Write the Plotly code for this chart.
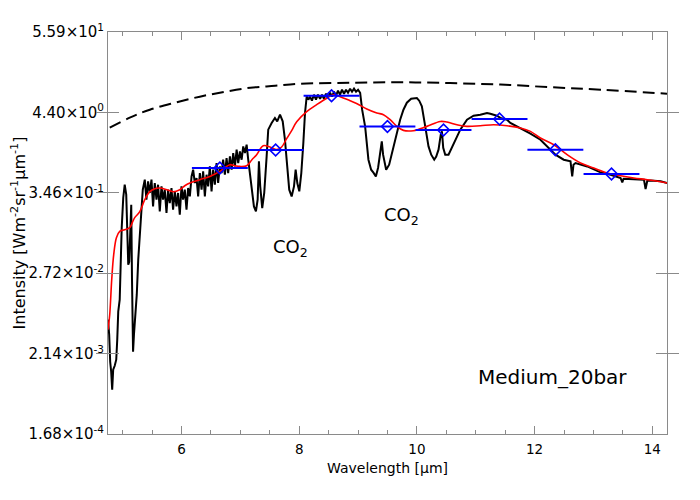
import numpy as np
import plotly.graph_objects as go

# black spectrum: wavelength [um] and log10 intensity
spec_wl = [4.750, 4.770, 4.787, 4.804, 4.821, 4.838, 4.864, 4.890, 4.907, 4.924,
           4.949, 4.966, 4.983, 5.009, 5.034, 5.060, 5.077, 5.094, 5.111, 5.128,
           5.145, 5.158, 5.176, 5.191, 5.213, 5.239, 5.264, 5.290, 5.315, 5.341,
           5.375, 5.403, 5.431, 5.460, 5.489, 5.516, 5.545, 5.574, 5.601, 5.630,
           5.659, 5.686, 5.715, 5.744, 5.771, 5.800, 5.829, 5.856, 5.885, 5.914,
           5.941, 5.970, 5.999, 6.026, 6.055, 6.084, 6.112, 6.141, 6.170, 6.197,
           6.226, 6.255, 6.282, 6.311, 6.340, 6.367, 6.396, 6.425, 6.452, 6.481,
           6.510, 6.537, 6.566, 6.595, 6.622, 6.651, 6.680, 6.707, 6.736, 6.765,
           6.792, 6.822, 6.851, 6.878, 6.907, 6.936, 6.963, 6.992, 7.021, 7.048,
           7.077, 7.106, 7.133, 7.191, 7.230, 7.264, 7.293, 7.315, 7.337, 7.371,
           7.405, 7.446, 7.473, 7.531, 7.587, 7.626, 7.673, 7.719, 7.757, 7.796,
           7.830, 7.871, 7.911, 7.939, 7.967, 8.001, 8.035, 8.069, 8.098, 8.127,
           8.155, 8.183, 8.216, 8.250, 8.284, 8.318, 8.354, 8.387, 8.421, 8.455,
           8.489, 8.524, 8.557, 8.591, 8.625, 8.659, 8.694, 8.727, 8.761, 8.795,
           8.829, 8.864, 8.897, 8.931, 8.965, 9.000, 9.035, 9.069, 9.120, 9.176,
           9.222, 9.261, 9.302, 9.340, 9.375, 9.403, 9.425, 9.477, 9.528, 9.601,
           9.659, 9.715, 9.771, 9.829, 9.902, 9.999, 10.039, 10.084, 10.141, 10.197,
           10.243, 10.294, 10.328, 10.367, 10.405, 10.425, 10.447, 10.481, 10.537, 10.622,
           10.737, 10.851, 10.963, 11.077, 11.191, 11.248, 11.358, 11.418, 11.532, 11.588,
           11.758, 11.929, 12.099, 12.269, 12.354, 12.495, 12.610, 12.639, 12.661, 12.695,
           12.894, 13.120, 13.291, 13.461, 13.490, 13.512, 13.687, 13.858, 13.886, 13.915,
           13.972, 14.142, 14.255]
spec_log = [-2.204, -2.410, -2.782, -2.919, -3.166, -2.892, -2.837, -2.754, -2.479, -2.094,
            -1.930, -1.408, -0.941, -0.529, -0.350, -0.487, -1.037, -1.449, -1.408, -1.105,
            -0.625, -1.655, -2.644, -2.410, -2.204, -1.861, -1.380, -0.996, -0.721, -0.419,
            -0.281, -0.556, -0.304, -0.464, -0.281, -0.648, -0.327, -0.556, -0.350, -0.717,
            -0.373, -0.556, -0.419, -0.739, -0.419, -0.602, -0.396, -0.694, -0.442, -0.648,
            -0.464, -0.762, -0.373, -0.556, -0.419, -0.694, -0.396, -0.511, -0.236, -0.144,
            -0.327, -0.258, -0.511, -0.190, -0.419, -0.167, -0.511, -0.213, -0.373, -0.099,
            -0.442, -0.144, -0.350, -0.053, -0.327, -0.099, -0.190, -0.007, -0.213, 0.016,
            -0.190, 0.039, -0.144, 0.085, -0.099, 0.131, -0.053, 0.108, -0.007, 0.176,
            0.085, 0.199, -0.007, -0.373, -0.648, -0.717, -0.556, -0.030, -0.373, -0.671,
            -0.464, 0.039, 0.406, 0.497, 0.566, 0.520, 0.612, 0.520, 0.268, -0.099,
            -0.419, -0.511, -0.373, -0.144, -0.327, -0.442, -0.190, 0.216, 0.635, 0.863,
            0.818, 0.859, 0.804, 0.886, 0.818, 0.886, 0.831, 0.886, 0.831, 0.900,
            0.845, 0.913, 0.859, 0.927, 0.872, 0.941, 0.886, 0.955, 0.900, 0.955,
            0.913, 0.969, 0.927, 0.969, 0.927, 0.955, 0.913, 0.680, 0.447, -0.007,
            -0.144, -0.185, -0.236, -0.117, 0.131, 0.245, 0.062, -0.144, -0.075, 0.176,
            0.378, 0.543, 0.680, 0.776, 0.831, 0.841, 0.804, 0.726, 0.451, 0.176,
            0.062, -0.007, 0.035, 0.131, 0.337, 0.382, 0.158, 0.062, 0.062, 0.199,
            0.406, 0.543, 0.598, 0.612, 0.635, 0.625, 0.598, 0.567, 0.543, 0.498,
            0.429, 0.350, 0.268, 0.131, 0.062, -0.007, -0.030, -0.236, -0.075, -0.052,
            -0.099, -0.181, -0.213, -0.258, -0.318, -0.268, -0.272, -0.281, -0.409, -0.295,
            -0.291, -0.304, -0.327]

# red smoothed model
model_wl = [4.750, 4.779, 4.813, 4.847, 4.893, 4.949, 5.034, 5.119, 5.170, 5.204,
            5.290, 5.375, 5.460, 5.545, 5.630, 5.749, 5.856, 5.970, 6.055, 6.141,
            6.311, 6.481, 6.651, 6.736, 6.822, 6.907, 6.992, 7.106, 7.196, 7.276,
            7.388, 7.503, 7.616, 7.701, 7.786, 7.871, 7.957, 8.127, 8.297, 8.467,
            8.580, 8.694, 8.864, 8.983, 9.148, 9.318, 9.431, 9.545, 9.659, 9.771,
            9.941, 10.169, 10.396, 10.510, 10.680, 10.851, 11.077, 11.303, 11.532, 11.758,
            11.929, 12.099, 12.326, 12.553, 12.780, 13.006, 13.234, 13.461, 13.687, 13.915,
            14.142, 14.255]
model_log = [-2.342, -2.136, -1.655, -1.312, -1.078, -0.991, -0.968, -0.941, -0.858, -0.803,
             -0.721, -0.556, -0.446, -0.405, -0.396, -0.419, -0.446, -0.419, -0.364, -0.327,
             -0.281, -0.236, -0.167, -0.117, -0.075, -0.089, -0.099, -0.089, -0.007, 0.062,
             0.186, 0.168, 0.131, 0.168, 0.282, 0.392, 0.515, 0.653, 0.749, 0.838,
             0.886, 0.859, 0.804, 0.763, 0.690, 0.635, 0.612, 0.543, 0.451, 0.396,
             0.392, 0.451, 0.519, 0.511, 0.474, 0.451, 0.460, 0.474, 0.460, 0.429,
             0.382, 0.291, 0.199, 0.062, -0.052, -0.121, -0.190, -0.227, -0.258, -0.281,
             -0.309, -0.327]

# dashed blackbody-like envelope
bb_wl = [4.78, 5.12, 5.46, 5.885, 6.31, 6.74, 7.17, 7.59, 8.01, 8.86,
         9.71, 10.56, 11.42, 12.27, 13.12, 14.25]
bb_int = [2.71, 3.72, 4.79, 5.97, 7.23, 8.45, 9.59, 10.2, 10.9, 11.2,
          11.4, 11.1, 10.6, 9.75, 9.02, 7.94]

# binned channels
ch_wl = [6.651, 7.599, 8.549, 9.499, 10.452, 11.404, 12.353, 13.307]
ch_half = [0.475, 0.475, 0.475, 0.475, 0.475, 0.475, 0.475, 0.475]
ch_int = [0.757, 1.337, 7.45, 2.82, 2.52, 3.57, 1.35, 0.626]

xtick_vals = [6, 8, 10, 12, 14]
ytick_vals = [1.68e-4, 2.14e-3, 2.72e-2, 3.46e-1, 4.40, 55.9]
ytick_text = ['1.68×10<sup>-4</sup>', '2.14×10<sup>-3</sup>', '2.72×10<sup>-2</sup>',
              '3.46×10<sup>-1</sup>', '4.40×10<sup>0</sup>', '5.59×10<sup>1</sup>']

font = 'DejaVu Sans, sans-serif'
axis_col = '#8a8a8a'
xrange = [4.75, 14.25]

fig = go.Figure()
fig.add_trace(go.Scatter(x=bb_wl, y=bb_int, mode='lines', line_shape='spline',
                         line=dict(color='black', width=2, dash='12px,6px')))
fig.add_trace(go.Scatter(x=spec_wl, y=10 ** np.array(spec_log), mode='lines',
                         line=dict(color='black', width=2)))
fig.add_trace(go.Scatter(x=model_wl, y=10 ** np.array(model_log), mode='lines',
                         line_shape='spline', line=dict(color='#ff0000', width=1.6)))
fig.add_trace(go.Scatter(x=ch_wl, y=ch_int, mode='markers',
                         marker=dict(symbol='diamond-open', size=9, color='#0000ff',
                                     line=dict(width=1.6, color='#0000ff')),
                         error_x=dict(type='data', array=ch_half, color='#0000ff',
                                      thickness=2, width=0)))
# invisible trace so the top axis (with minor ticks) gets drawn
fig.add_trace(go.Scatter(x=xrange, y=[1, 1], xaxis='x2', mode='lines',
                         opacity=0, hoverinfo='skip'))

fig.add_annotation(x=7.843, y=-1.215, text='CO<sub>2</sub>', showarrow=False,
                   font=dict(family=font, size=18, color='black'))
fig.add_annotation(x=9.733, y=-0.776, text='CO<sub>2</sub>', showarrow=False,
                   font=dict(family=font, size=18, color='black'))
fig.add_annotation(x=12.30, y=-2.987, text='Medium_20bar', showarrow=False,
                   font=dict(family=font, size=20, color='black'))

minor = dict(dtick=0.5, tick0=0, ticks='inside', ticklen=4, tickcolor=axis_col, showgrid=False)
fig.update_layout(
    xaxis=dict(range=xrange, tickvals=xtick_vals, ticks='inside', ticklen=8,
               tickcolor=axis_col, showline=True, linecolor=axis_col, linewidth=1,
               showgrid=False, zeroline=False, automargin=False, ticklabelstandoff=3,
               tickfont=dict(family=font, size=13.5, color='black'), minor=minor,
               title=dict(text='Wavelength [μm]',
                          font=dict(family=font, size=14, color='black'), standoff=6)),
    xaxis2=dict(range=xrange, overlaying='x', side='top', tickvals=xtick_vals,
                ticks='inside', ticklen=8, tickcolor=axis_col, showline=True,
                linecolor=axis_col, linewidth=1, showticklabels=False, showgrid=False,
                zeroline=False, automargin=False, minor=minor),
    yaxis=dict(type='log', range=[np.log10(1.68e-4), np.log10(55.9)],
               tickvals=ytick_vals, ticktext=ytick_text, ticks='inside', ticklen=11,
               tickcolor=axis_col, showline=True, linecolor=axis_col, linewidth=1,
               mirror='allticks', showgrid=False, zeroline=False, automargin=False,
               tickfont=dict(family=font, size=15, color='black'),
               title=dict(text='Intensity [Wm<sup>-2</sup>sr<sup>-1</sup>μm<sup>-1</sup>]',
                          font=dict(family=font, size=16, color='black'), standoff=4)),
    width=700, height=500, showlegend=False,
    margin=dict(l=100, r=41, t=24, b=74),
    plot_bgcolor='white', paper_bgcolor='white')

fig.write_html("out.html")
